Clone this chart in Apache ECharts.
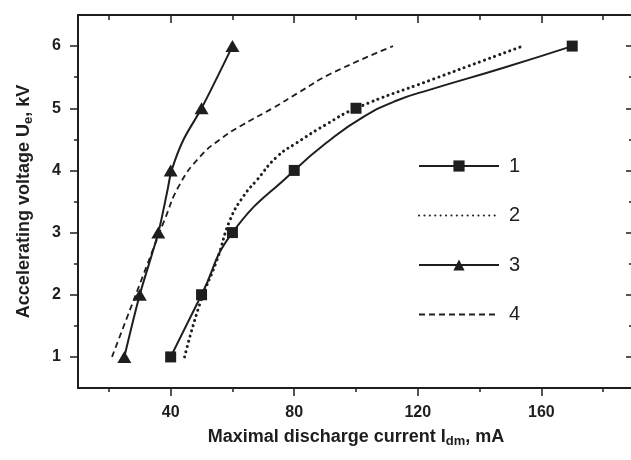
<!DOCTYPE html>
<html>
<head>
<meta charset="utf-8">
<script src="https://cdn.jsdelivr.net/npm/echarts@6/dist/echarts.min.js"></script>
<style>html,body{margin:0;padding:0;background:#fff}#c{width:631px;height:460px}</style>
</head>
<body>
<div id="c"></div>
<script>
// ---- data ----
const xMajor = [40, 80, 120, 160];
const xMinor = [20, 60, 100, 140, 180];
const yMajor = [1, 2, 3, 4, 5, 6];
const yMinor = [1.5, 2.5, 3.5, 4.5, 5.5];

// series 1: measured points (squares) and fitted solid curve
const s1Points = [[40, 1], [50, 2], [60, 3], [80, 4], [100, 5], [170, 6]];
const s1Curve = [[40, 1], [50, 2], [60, 3], [80, 4], [91.6, 4.49], [102.4, 4.86], [113, 5.12], [124, 5.3], [147, 5.64], [170, 6]];
// series 2: dotted curve
const s2Curve = [[44.5, 1], [49.5, 1.86], [55, 2.56], [59.2, 3.2], [63.5, 3.58], [68, 3.85], [74.4, 4.22], [81, 4.45], [90, 4.73], [100, 5], [124, 5.45], [154, 6]];
// series 3: triangles and the solid curve through them
const s3Points = [[25, 1], [30, 2], [36, 3], [40, 4], [50, 5], [60, 6]];
const s3Curve = [[25, 1], [30, 2], [36, 3], [39, 3.69], [40.3, 4], [44.1, 4.49], [50, 5], [60, 6]];
// series 4: dashed curve
const s4Curve = [[21, 1], [26, 1.65], [31, 2.3], [38, 3.2], [43, 3.78], [49.5, 4.22], [56, 4.5], [63.5, 4.74], [73, 5.0], [82, 5.27], [91.6, 5.55], [112, 6]];

const legendNames = ['1', '2', '3', '4'];
const xTitle = ['Maximal discharge current I', 'dm', ', mA'];
const yTitle = ['Accelerating voltage U', 'e', ', kV'];

const INK = '#1e1e1e';
const FONT = '"Liberation Sans", Arial, Helvetica, sans-serif';

const chart = echarts.init(document.getElementById('c'), null, {renderer: 'canvas'});

function richName(parts) {
  return '{a|' + parts[0] + '}{s|' + parts[1] + '}{a|' + parts[2] + '}';
}
const nameRich = {
  a: {fontSize: 18, fontWeight: 'bold', fontFamily: FONT, color: INK, lineHeight: 20, verticalAlign: 'top'},
  s: {fontSize: 13, fontWeight: 'bold', fontFamily: FONT, color: INK, lineHeight: 14, verticalAlign: 'bottom', padding: [9, 0, 0, 0]}
};

function xAx(pos, ticks, len, inside, line, labels, extra) {
  return Object.assign({
    type: 'value', position: pos, min: 10, max: 190,
    splitLine: {show: false},
    axisLine: {show: line, onZero: false, lineStyle: {color: INK, width: 2}},
    axisTick: {show: true, customValues: ticks, length: len, inside: inside, lineStyle: {color: INK, width: 1.5}},
    axisLabel: labels ? {show: true, customValues: labels, margin: 17, fontSize: 16, fontWeight: 'bold', fontFamily: FONT, color: INK} : {show: false}
  }, extra || {});
}
function yAx(pos, ticks, len, inside, line, labels, extra) {
  return Object.assign({
    type: 'value', position: pos, min: 0.5, max: 6.5,
    splitLine: {show: false},
    axisLine: {show: line, onZero: false, lineStyle: {color: INK, width: 2}},
    axisTick: {show: true, customValues: ticks, length: len, inside: inside, lineStyle: {color: INK, width: 1.5}},
    axisLabel: labels ? {show: true, customValues: labels, margin: 17, fontSize: 16, fontWeight: 'bold', fontFamily: FONT, color: INK} : {show: false}
  }, extra || {});
}

const option = {
  animation: false,
  backgroundColor: '#fff',
  grid: {left: 78, top: 15, right: -3, bottom: 72, containLabel: false, outerBoundsMode: 'none'},
  xAxis: [
    xAx('bottom', xMajor, 8, false, true, xMajor, {
      name: richName(xTitle), nameLocation: 'middle', nameGap: 40,
      nameTextStyle: {rich: nameRich}
    }),
    xAx('bottom', xMinor, 4, false, false, null),
    xAx('top', xMajor, 8, true, true, null),
    xAx('top', xMinor, 5, true, false, null)
  ],
  yAxis: [
    yAx('left', yMajor, 8, false, true, yMajor, {
      name: richName(yTitle), nameLocation: 'middle', nameGap: 43, nameRotate: 90,
      nameTextStyle: {rich: nameRich}
    }),
    yAx('left', yMinor, 4, false, false, null),
    yAx('right', yMajor, 8, true, true, null),
    yAx('right', yMinor, 5, true, false, null)
  ],
  legend: {
    data: legendNames,
    orient: 'vertical',
    left: 418, top: 156, padding: 0,
    itemWidth: 80, itemHeight: 14, itemGap: 29.5,
    textStyle: {fontSize: 20, fontFamily: FONT, color: INK, lineHeight: 14, padding: [0, 0, 0, 5]},
    selectedMode: false
  },
  series: [
    {
      name: '1', type: 'line', data: s1Curve, smooth: 0.5, showSymbol: false,
      symbol: 'rect', symbolSize: 11,
      lineStyle: {color: INK, width: 2}, itemStyle: {color: INK, opacity: 1}, z: 3
    },
    {
      name: '2', type: 'line', data: s2Curve, smooth: 0.5, symbol: 'none',
      lineStyle: {color: INK, width: 3, type: [0.1, 5.3], cap: 'round'},
      itemStyle: {color: 'rgba(0,0,0,0)', borderWidth: 0}, z: 2
    },
    {
      name: '3', type: 'line', data: s3Curve, smooth: 0.3, showSymbol: false,
      symbol: 'triangle', symbolSize: [14, 12],
      lineStyle: {color: INK, width: 2}, itemStyle: {color: INK, opacity: 1}, z: 3
    },
    {
      name: '4', type: 'line', data: s4Curve, smooth: 0.5, symbol: 'none',
      lineStyle: {color: INK, width: 1.8, type: [6, 4]},
      itemStyle: {color: 'rgba(0,0,0,0)', borderWidth: 0}, z: 2
    },
    {
      name: 'pts1', type: 'scatter', data: s1Points, symbol: 'rect', symbolSize: 11,
      itemStyle: {color: INK, opacity: 1}, z: 4
    },
    {
      name: 'pts3', type: 'scatter', data: s3Points, symbol: 'triangle', symbolSize: [14, 12],
      itemStyle: {color: INK, opacity: 1}, z: 4
    }
  ]
};
chart.setOption(option);
</script>
</body>
</html>
